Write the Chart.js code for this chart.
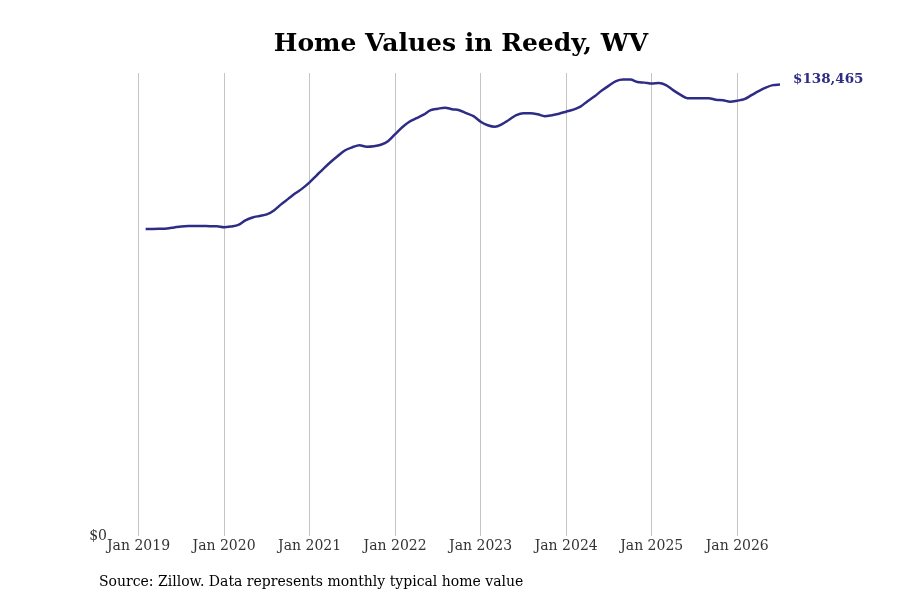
<!DOCTYPE html>
<html lang="en">
<head>
    <meta charset="UTF-8">
    <title>Home Values in Reedy, WV</title>
    <script src="https://cdn.jsdelivr.net/npm/chart.js"></script>
    <style>
        html, body { margin: 0; padding: 0; background: #fff; }
        #wrap { width: 900px; height: 600px; }
    </style>
</head>
<body>
<div id="wrap"><canvas id="chart" width="900" height="600"></canvas></div>
<script>
    // months counted from Jan 2019 (0 = Jan 2019)
    const startMonth = 1; // Feb 2019
    const values = [
        // 2019 (Feb-Dec)
        94200, 94200, 94250, 94340, 94650, 94960, 95110, 95110, 95110, 95020, 95020,
        // 2020
        94710, 94960, 95420, 96800, 97720, 98180, 98640, 99870, 101720, 103410, 105100, 106630,
        // 2021
        108480, 110630, 112780, 114780, 116620, 118310, 119230, 119850, 119390, 119540, 120000, 121080,
        // 2022
        123230, 125380, 127070, 128140, 129220, 130600, 131060, 131370, 130910, 130600, 129680, 128760,
        // 2023
        127070, 125990, 125530, 126300, 127680, 129070, 129680, 129680, 129370, 128760, 129070, 129530,
        // 2024
        130140, 130760, 131680, 133370, 134900, 136600, 138130, 139510, 139970, 139970, 139210, 139050,
        // 2025
        138750, 138900, 138290, 136750, 135370, 134290, 134290, 134290, 134290, 133830, 133680, 133220,
        // 2026 (Jan-Jul)
        133520, 133980, 135210, 136440, 137520, 138290, 138465
    ];
    const tickYears = [2019, 2020, 2021, 2022, 2023, 2024, 2025, 2026];
    const lastLabel = '$138,465';

    const lineColor = '#2e2c85';
    const serif = "'DejaVu Serif', 'Liberation Serif', serif";

    const points = values.map((v, i) => ({x: startMonth + i, y: v}));

    const textPlugin = {
        id: 'texts',
        afterDraw(chart) {
            const ctx = chart.ctx;
            ctx.save();
            ctx.fillStyle = '#000';
            ctx.font = 'bold 25px ' + serif;
            ctx.textAlign = 'center';
            ctx.textBaseline = 'middle';
            ctx.fillText('Home Values in Reedy, WV', 461, 44);

            ctx.font = '14px ' + serif;
            ctx.textAlign = 'left';
            ctx.fillText('Source: Zillow. Data represents monthly typical home value', 99, 582);

            const meta = chart.getDatasetMeta(0);
            const last = meta.data[meta.data.length - 1];
            ctx.fillStyle = lineColor;
            ctx.font = 'bold 13.5px ' + serif;
            ctx.fillText(lastLabel, last.x + 13, last.y - 5);
            ctx.restore();
        }
    };

    new Chart(document.getElementById('chart'), {
        type: 'line',
        data: {
            datasets: [{
                data: points,
                borderColor: lineColor,
                borderWidth: 2.5,
                pointRadius: 0,
                fill: false,
                tension: 0.4,
                cubicInterpolationMode: 'monotone'
            }]
        },
        options: {
            responsive: false,
            animation: false,
            layout: {padding: {top: 73, left: 60, right: 120, bottom: 43}},
            plugins: {
                legend: {display: false},
                title: {display: false},
                tooltip: {enabled: false}
            },
            scales: {
                x: {
                    type: 'linear',
                    min: -4,
                    max: 90,
                    afterBuildTicks(scale) {
                        scale.ticks = tickYears.map(y => ({value: (y - 2019) * 12}));
                    },
                    ticks: {
                        padding: 2,
                        maxRotation: 0,
                        autoSkip: false,
                        color: '#333',
                        font: {family: serif, size: 14},
                        callback: v => 'Jan ' + (2019 + v / 12)
                    },
                    grid: {color: '#c4c4c4', lineWidth: 1, drawTicks: false},
                    border: {display: false}
                },
                y: {
                    min: 0,
                    max: 142000,
                    afterBuildTicks(scale) {
                        scale.ticks = [{value: 0}];
                    },
                    afterFit(scale) {
                        scale.width = 50;
                    },
                    ticks: {
                        padding: 3,
                        color: '#333',
                        font: {family: serif, size: 14},
                        callback: v => '$' + v
                    },
                    grid: {display: false, drawTicks: false, tickLength: 0},
                    border: {display: false}
                }
            }
        },
        plugins: [textPlugin]
    });
</script>
</body>
</html>
